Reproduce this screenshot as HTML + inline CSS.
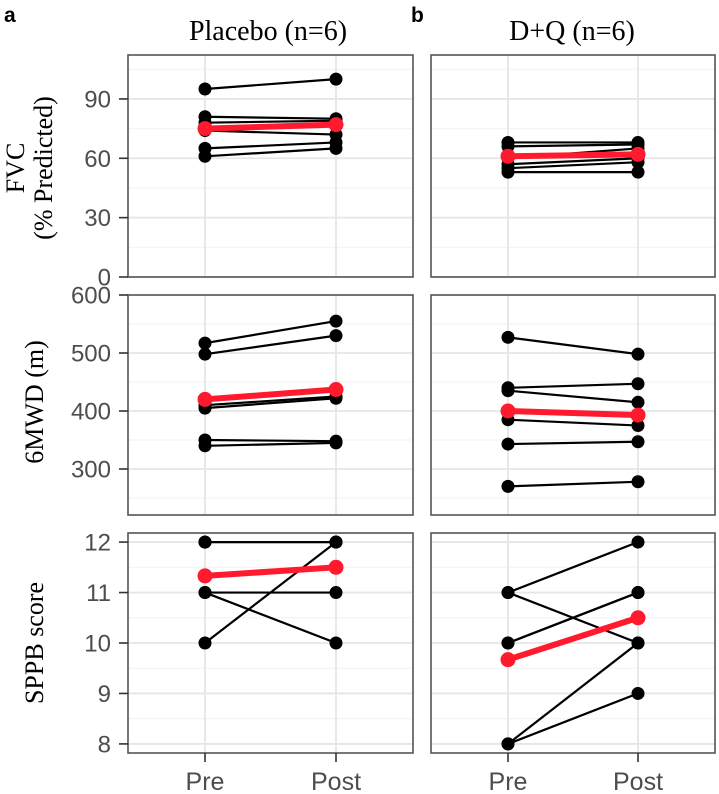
<!DOCTYPE html>
<html><head><meta charset="utf-8"><style>
body{margin:0;background:#fff;width:719px;height:794px;overflow:hidden}
svg{display:block}
</style></head><body>
<svg id="chart" width="719" height="794" xmlns="http://www.w3.org/2000/svg">
<text x="4" y="22" font-family="Liberation Sans, sans-serif" font-weight="bold" font-size="21">a</text>
<text x="411" y="22" font-family="Liberation Sans, sans-serif" font-weight="bold" font-size="21">b</text>
<text x="268" y="40" text-anchor="middle" font-family="Liberation Serif, serif" font-size="28">Placebo (n=6)</text>
<text x="572" y="40" text-anchor="middle" font-family="Liberation Serif, serif" font-size="28">D+Q (n=6)</text>
<g font-family="Liberation Serif, serif" font-size="26" text-anchor="middle">
<text transform="translate(24,168) rotate(-90)">FVC</text>
<text transform="translate(52,168) rotate(-90)">(% Predicted)</text>
<text transform="translate(43,402) rotate(-90)">6MWD (m)</text>
<text transform="translate(43,643) rotate(-90)">SPPB score</text>
</g>
</svg>
<script>
const groups=["Pre","Post"];
const fvcTicks=[0,30,60,90];
const mwdTicks=[300,400,500,600];
const sppbTicks=[8,9,10,11,12];
const fvcPlaceboPre=[95,81,78,74,65,61];
const fvcPlaceboPost=[100,80,79,72,68,65];
const fvcPlaceboMean=[75,77];
const fvcDqPre=[68,66,60,57,55,53];
const fvcDqPost=[68,67,65,60,58,53];
const fvcDqMean=[61,62];
const mwdPlaceboPre=[517,498,410,405,350,340];
const mwdPlaceboPost=[555,530,425,422,348,345];
const mwdPlaceboMean=[420,437];
const mwdDqPre=[527,440,435,385,343,270];
const mwdDqPost=[498,447,415,375,347,278];
const mwdDqMean=[400,393];
const sppbPlaceboPre=[12,12,12,11,11,10];
const sppbPlaceboPost=[12,12,12,11,10,12];
const sppbPlaceboMean=[11.33,11.5];
const sppbDqPre=[11,11,10,10,8,8];
const sppbDqPost=[12,10,11,11,10,9];
const sppbDqMean=[9.67,10.5];

const svg=document.getElementById('chart');
const NS='http://www.w3.org/2000/svg';
function mk(tag,attrs,parent){const e=document.createElementNS(NS,tag);for(const k in attrs)e.setAttribute(k,attrs[k]);(parent||svg).appendChild(e);return e;}
const cols=[{x0:128,x1:413,pre:205,post:336},{x0:431,x1:715,pre:508,post:638}];
const rows=[
 {y0:55,y1:277,min:0,max:112.2,ticks:fvcTicks,minor:15,name:'fvc',data:[[fvcPlaceboPre,fvcPlaceboPost,fvcPlaceboMean],[fvcDqPre,fvcDqPost,fvcDqMean]]},
 {y0:295,y1:515,min:220.7,max:600,ticks:mwdTicks,minor:50,name:'6mwd',data:[[mwdPlaceboPre,mwdPlaceboPost,mwdPlaceboMean],[mwdDqPre,mwdDqPost,mwdDqMean]]},
 {y0:533,y1:753,min:7.82,max:12.18,ticks:sppbTicks,minor:0.5,name:'sppb',data:[[sppbPlaceboPre,sppbPlaceboPost,sppbPlaceboMean],[sppbDqPre,sppbDqPost,sppbDqMean]]}
];
rows.forEach((r,ri)=>{
 const y=v=>r.y1-(v-r.min)/(r.max-r.min)*(r.y1-r.y0);
 cols.forEach((c,ci)=>{
  const g=mk('g',{});
  
  
  for(let v=Math.ceil(r.min/r.minor)*r.minor;v<=r.max+1e-9;v+=r.minor){
   const yy=y(v);const major=r.ticks.some(t=>Math.abs(t-v)<1e-6);
   const l=mk('line',{x1:c.x0,x2:c.x1,y1:yy,y2:yy,stroke:major?'#e6e6e6':'#f2f2f2','stroke-width':major?1.8:1},g);
   
   
  }
  [c.pre,c.post].forEach(xx=>{const l=mk('line',{x1:xx,x2:xx,y1:r.y0,y2:r.y1,stroke:'#e6e6e6','stroke-width':1.8},g);
   
   });
  const [pre,post,mean]=r.data[ci];
  pre.forEach((v,i)=>{
   const l=mk('line',{x1:c.pre,x2:c.post,y1:y(v),y2:y(post[i]),stroke:'#000','stroke-width':2.2},g);
   
   
  });
  pre.forEach((v,i)=>{
   const a=mk('circle',{cx:c.pre,cy:y(v),r:6.5,fill:'#000'},g);
   
   
   const b=mk('circle',{cx:c.post,cy:y(post[i]),r:6.5,fill:'#000'},g);
   
   
  });
  const ml=mk('line',{x1:c.pre,x2:c.post,y1:y(mean[0]),y2:y(mean[1]),stroke:'#ff1a2e','stroke-width':6},g);
  
  
  mean.forEach((v,i)=>{const p=mk('circle',{cx:i?c.post:c.pre,cy:y(v),r:7.5,fill:'#ff1a2e'},g);
   
   });
  const fr=mk('rect',{x:c.x0,y:r.y0,width:c.x1-c.x0,height:r.y1-r.y0,fill:'none',stroke:'#555','stroke-width':1.6},g);
  
  
  if(ci===0){
   r.ticks.forEach(t=>{
    const tk=mk('line',{x1:c.x0-9,x2:c.x0,y1:y(t),y2:y(t),stroke:'#333','stroke-width':1.6});
    
    
    const tx=mk('text',{x:111,y:y(t)+8.5,'text-anchor':'end','font-family':'Liberation Sans, sans-serif','font-size':24,fill:'#4d4d4d'});
    tx.textContent=t;
    
    
   });
  }
  if(ri===2){
   groups.forEach((gname,gi)=>{
    const xx=gi?c.post:c.pre;
    const tk=mk('line',{x1:xx,x2:xx,y1:r.y1,y2:r.y1+9,stroke:'#333','stroke-width':1.6});
    
    
    const tx=mk('text',{x:xx,y:790,'text-anchor':'middle','font-family':'Liberation Sans, sans-serif','font-size':25,fill:'#4d4d4d'});
    tx.textContent=gname;
    
    
   });
  }
 });
});
</script>
</body></html>
